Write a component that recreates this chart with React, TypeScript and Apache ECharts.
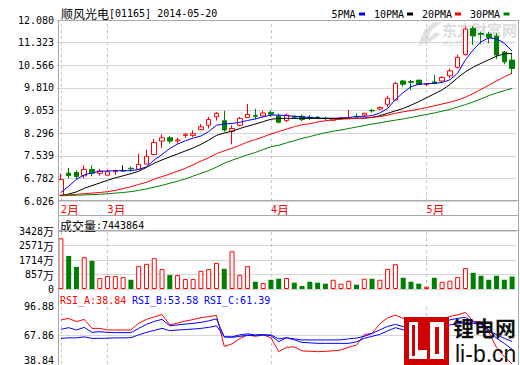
import React, { useEffect, useRef } from 'react';
import * as echarts from 'echarts';

const dates = [
  '2014-02-21', '2014-02-24', '2014-02-25', '2014-02-26', '2014-02-27', '2014-02-28',
  '2014-03-03', '2014-03-04', '2014-03-05', '2014-03-06', '2014-03-07', '2014-03-10', '2014-03-11',
  '2014-03-12', '2014-03-13', '2014-03-14', '2014-03-17', '2014-03-18', '2014-03-19', '2014-03-20',
  '2014-03-21', '2014-03-24', '2014-03-25', '2014-03-26', '2014-03-27', '2014-03-28', '2014-03-31',
  '2014-04-01', '2014-04-02', '2014-04-03', '2014-04-04', '2014-04-07', '2014-04-08', '2014-04-09',
  '2014-04-10', '2014-04-11', '2014-04-14', '2014-04-15', '2014-04-16', '2014-04-17', '2014-04-22',
  '2014-04-23', '2014-04-24', '2014-04-25', '2014-04-28', '2014-04-29', '2014-04-30',
  '2014-05-02', '2014-05-05', '2014-05-07', '2014-05-08', '2014-05-09', '2014-05-12', '2014-05-13',
  '2014-05-14', '2014-05-15', '2014-05-16', '2014-05-19', '2014-05-20',
];

const opens = [
  6.22, 6.96, 6.98, 6.87, 7.08, 6.95, 6.89, 7.01, 7.04, 7.12,
  7.09, 7.26, 7.58, 8.03, 8.14, 8.04, 8.22, 8.22, 8.41, 8.56,
  8.84, 8.71, 8.36, 8.56, 8.82, 8.89, 8.87, 8.99, 8.87, 8.72,
  8.85, 8.86, 8.83, 8.83, 8.80, 8.73, 8.79, 8.78, 8.86, 8.90,
  9.06, 9.10, 9.26, 9.40, 10.04, 10.02, 10.07, 9.92, 10.01, 10.04,
  10.21, 10.50, 10.93, 11.80, 11.63, 11.61, 11.54, 11.01, 10.74,
];
const closes = [
  6.74, 6.88, 6.84, 7.08, 6.95, 7.03, 7.01, 7.03, 7.04, 7.10,
  7.25, 7.52, 7.98, 8.14, 8.03, 8.07, 8.26, 8.28, 8.51, 8.75,
  8.96, 8.40, 8.45, 8.79, 8.92, 8.86, 8.97, 8.93, 8.66, 8.90,
  8.83, 8.75, 8.81, 8.81, 8.78, 8.78, 8.79, 8.81, 8.84, 8.96,
  9.04, 9.15, 9.46, 9.96, 9.93, 10.00, 9.93, 9.93, 9.96, 10.16,
  10.38, 10.83, 11.78, 11.55, 11.60, 11.50, 10.91, 10.68, 10.46,
];
const lows = [
  6.20, 6.78, 6.75, 6.78, 6.85, 6.87, 6.89, 6.90, 7.00, 7.02,
  7.07, 7.25, 7.56, 7.80, 7.95, 7.94, 8.14, 8.16, 8.40, 8.45,
  8.72, 8.34, 7.92, 8.52, 8.80, 8.76, 8.85, 8.85, 8.62, 8.66,
  8.78, 8.70, 8.74, 8.76, 8.72, 8.72, 8.76, 8.77, 8.79, 8.87,
  8.98, 9.07, 9.16, 9.38, 9.85, 9.72, 9.91, 9.88, 9.93, 10.00,
  10.13, 10.45, 10.89, 11.25, 11.28, 11.30, 10.78, 10.60, 10.30,
];
const highs = [
  6.94, 7.13, 7.05, 7.22, 7.22, 7.10, 7.07, 7.08, 7.22, 7.18,
  7.61, 7.75, 8.10, 8.25, 8.20, 8.14, 8.28, 8.39, 8.60, 8.84,
  9.00, 9.04, 8.56, 8.84, 9.27, 9.11, 9.05, 9.05, 8.95, 8.95,
  8.90, 8.92, 8.90, 8.87, 8.84, 8.80, 8.83, 9.07, 8.96, 8.98,
  9.10, 9.19, 9.55, 10.01, 10.08, 10.08, 10.07, 9.97, 10.24, 10.20,
  10.46, 10.93, 11.86, 11.88, 11.69, 11.69, 11.64, 11.04, 10.99,
];

const ma5 = [
  6.31, 6.52, 6.75, 6.90, 6.97, 7.02, 7.03, 7.04, 7.04, 7.04,
  7.08, 7.17, 7.40, 7.58, 7.78, 7.93, 8.04, 8.13, 8.20, 8.35,
  8.56, 8.60, 8.62, 8.66, 8.72, 8.77, 8.84, 8.90, 8.90, 8.88,
  8.86, 8.84, 8.82, 8.80, 8.79, 8.79, 8.80, 8.82, 8.85, 8.86,
  8.88, 8.97, 9.12, 9.42, 9.65, 9.85, 9.93, 9.95, 9.96, 9.99,
  10.08, 10.30, 10.75, 11.08, 11.35, 11.48, 11.45, 11.30, 11.04,
];
const ma10 = [
  6.20, 6.26, 6.33, 6.45, 6.54, 6.63, 6.72, 6.80, 6.87, 6.94,
  7.02, 7.15, 7.29, 7.40, 7.50, 7.60, 7.70, 7.80, 7.92, 8.06,
  8.22, 8.30, 8.36, 8.45, 8.53, 8.60, 8.68, 8.76, 8.79, 8.79,
  8.79, 8.79, 8.79, 8.79, 8.79, 8.79, 8.79, 8.79, 8.79, 8.80,
  8.82, 8.88, 8.96, 9.04, 9.12, 9.23, 9.35, 9.48, 9.61, 9.74,
  9.92, 10.15, 10.35, 10.50, 10.63, 10.75, 10.87, 10.95, 10.96,
];
const ma20 = [
  6.22, 6.23, 6.25, 6.27, 6.29, 6.31, 6.34, 6.38, 6.44, 6.50,
  6.58, 6.65, 6.76, 6.84, 6.93, 7.02, 7.12, 7.24, 7.36, 7.47,
  7.61, 7.70, 7.79, 7.89, 8.00, 8.08, 8.17, 8.27, 8.35, 8.43,
  8.51, 8.58, 8.61, 8.67, 8.71, 8.74, 8.76, 8.78, 8.79, 8.80,
  8.82, 8.85, 8.90, 8.96, 9.01, 9.05, 9.10, 9.15, 9.21, 9.27,
  9.33, 9.40, 9.50, 9.62, 9.76, 9.90, 10.04, 10.18, 10.30,
];
const ma30 = [
  6.20, 6.21, 6.22, 6.23, 6.24, 6.25, 6.27, 6.29, 6.31, 6.34,
  6.38, 6.43, 6.49, 6.55, 6.62, 6.69, 6.76, 6.86, 6.95, 7.04,
  7.16, 7.29, 7.39, 7.48, 7.57, 7.65, 7.75, 7.84, 7.89, 7.97,
  8.04, 8.12, 8.18, 8.25, 8.31, 8.36, 8.40, 8.45, 8.50, 8.55,
  8.60, 8.64, 8.69, 8.73, 8.77, 8.82, 8.87, 8.92, 8.97, 9.03,
  9.09, 9.17, 9.25, 9.34, 9.44, 9.55, 9.64, 9.72, 9.79,
];

// volume in units of 万 (10,000 shares)
const volumes = [
  2994, 1955, 1309, 1878, 1661, 646, 763, 763, 704, 546,
  1350, 1485, 1820, 1174, 822, 822, 587, 587, 1076, 1174,
  1545, 1193, 2230, 822, 1350, 430, 352, 546, 606, 646,
  372, 176, 430, 372, 313, 546, 313, 489, 254, 606,
  606, 546, 1193, 1467, 665, 430, 313, 137, 665, 430,
  489, 704, 1233, 958, 783, 546, 783, 546, 744,
];

const rsiA = [
  82.9, 84.5, 81.2, 83.5, 74.5, 74.5, 72.9, 72.9, 72.9, 72.9,
  79.5, 83.5, 86.0, 88.3, 78.0, 79.8, 81.8, 83.3, 85.2, 86.2,
  87.5, 56.5, 59.0, 64.3, 67.9, 66.5, 67.9, 65.2, 51.2, 55.5,
  56.0, 52.0, 51.6, 51.2, 51.5, 52.0, 52.9, 55.8, 57.7, 68.3,
  69.5, 79.0, 85.0, 87.7, 84.5, 81.0, 78.0, 79.0, 77.5, 82.0,
  86.5, 88.0, 90.5, 81.5, 81.2, 70.5, 55.3, 46.0, 38.84,
];
const rsiB = [
  73.5, 75.2, 72.9, 75.5, 70.5, 71.2, 70.5, 70.2, 70.2, 70.2,
  74.5, 78.5, 81.5, 83.5, 77.0, 78.0, 78.8, 79.5, 80.5, 82.0,
  84.0, 66.0, 66.0, 68.0, 69.0, 67.9, 68.3, 67.2, 61.2, 65.0,
  64.0, 62.9, 62.9, 62.9, 62.9, 62.9, 63.0, 64.0, 64.8, 66.5,
  69.5, 73.0, 76.5, 78.5, 76.2, 75.0, 74.0, 74.5, 74.0, 78.0,
  83.0, 84.5, 85.5, 81.0, 79.5, 72.8, 64.5, 59.4, 53.58,
];
const rsiC = [
  64.5, 65.0, 65.0, 66.0, 64.5, 64.5, 64.7, 65.0, 65.0, 65.2,
  68.0, 70.5, 72.5, 74.5, 72.2, 72.8, 73.3, 73.8, 74.5, 75.5,
  77.0, 66.0, 65.5, 66.5, 67.5, 67.5, 67.9, 67.9, 64.0, 65.2,
  63.0, 60.5, 60.0, 59.5, 59.5, 59.5, 59.5, 59.5, 61.0, 64.5,
  66.5, 68.5, 72.0, 75.2, 73.0, 72.5, 72.0, 72.3, 72.0, 74.5,
  78.0, 79.0, 80.5, 79.5, 78.5, 73.0, 68.0, 64.5, 61.39,
];

const priceTicks = ['6.026', '6.782', '7.539', '8.296', '9.053', '9.810', '10.566', '11.323', '12.080'];
const volumeTicks = ['0', '857万', '1714万', '2571万', '3428万'];
const rsiTicks = ['38.84', '67.86', '96.88'];

const stockName = '顺风光电';
const stockCode = '[01165] 2014-05-20';
const volumeLabel = '成交量';
const volumeValue = ':7443864';
const rsiTitles = ['RSI_A:38.84', 'RSI_B:53.58', 'RSI_C:61.39'];
const maNames = ['5PMA', '10PMA', '20PMA', '30PMA'];
const maColors = ['#0000ff', '#000000', '#ff0000', '#008000'];

const MONO = "'DejaVu Sans Mono', monospace";
const CJK = "'Noto Sans CJK SC', sans-serif";
const RED = '#ff0000';
const GREEN = '#008000';
const BLUE = '#0000ff';
const FRAME = '#a8a8a8';
const GRIDC = '#d6d6d6';

const priceMin = 6.026;
const priceMax = 12.08;
const priceStep = (priceMax - priceMin) / 8;
const volStep = 857;
const rsiMin = 38.84;
const rsiMax = 96.88;
const rsiStep = (rsiMax - rsiMin) / 2;

const monthStarts = dates
  .map((d, i) => (i === 0 || d.slice(5, 7) !== dates[i - 1].slice(5, 7) ? i : -1))
  .filter((i) => i >= 0);

function buildOption() {
  const gridLeft = 57;
  const gridWidth = 459;

  const monthMark = (extra: any[] = []) => ({
    silent: true,
    symbol: ['none', 'none'],
    z: 1,
    label: { show: false },
    emphasis: { disabled: true },
    lineStyle: { color: '#c4c4c4', type: [3, 3], width: 1 },
    data: [...monthStarts.map((i) => ({ xAxis: dates[i] })), ...extra],
  });

  const xBase = {
    type: 'category',
    data: dates,
    boundaryGap: true,
    axisLine: { show: false },
    axisTick: { show: false },
    splitLine: { show: false },
  };

  const lineSeries = (name: string, data: number[], color: string, xi: number, yi: number, extra: any = {}) => ({
    name,
    type: 'line',
    xAxisIndex: xi,
    yAxisIndex: yi,
    data,
    symbol: 'none',
    showSymbol: false,
    smooth: false,
    z: 3,
    lineStyle: { color, width: 1 },
    itemStyle: { color },
    ...extra,
  });

  const txt = (x: number, y: number, text: string, rich: any, z = 5) => ({
    type: 'text',
    x,
    y,
    z,
    silent: true,
    style: { text, rich, verticalAlign: 'middle', align: 'left', fill: '#000' },
  });

  const richBlack = {
    a: { fontFamily: MONO, fontSize: 10, fill: '#000' },
    c: { fontFamily: CJK, fontSize: 12, fill: '#000' },
  };

  const hLine = (y: number) => ({
    type: 'line',
    silent: true,
    z: 6,
    shape: { x1: 58, y1: y, x2: 519, y2: y },
    style: { stroke: FRAME, lineWidth: 1 },
  });
  const vLine = (x: number) => ({
    type: 'line',
    silent: true,
    z: 6,
    shape: { x1: x, y1: 20, x2: x, y2: 365 },
    style: { stroke: FRAME, lineWidth: 1 },
  });

  const legendX = [331.5, 374, 422, 470];
  const legendDashX = [359, 407, 455, 503.5];

  const graphic: any[] = [
    // frame
    vLine(58.5),
    vLine(518.5),
    hLine(20.5),
    hLine(200.5),
    hLine(215.5),
    hLine(230.5),
    // watermark (east money)
    {
      type: 'polygon', silent: true, z: 0,
      shape: { points: [[418, 46], [424, 30], [434, 22], [442, 22], [432, 30], [428, 38], [436, 32], [441, 34], [430, 42]] },
      style: { fill: '#e2e2e2' },
    },
    {
      type: 'text', x: 442, y: 29, z: 0, silent: true,
      style: { text: '东方财富网', fontFamily: CJK, fontSize: 15, fontWeight: 'bold', fill: '#dcdcdc', verticalAlign: 'middle' },
    },
    {
      type: 'text', x: 443, y: 43, z: 0, silent: true,
      style: { text: 'eastmoney.com', fontFamily: "'DejaVu Sans', sans-serif", fontSize: 9, fontStyle: 'italic', fill: '#e0e0e0', verticalAlign: 'middle' },
    },
    // title
    txt(61, 13, `{c|${stockName}}{a|${stockCode}}`, richBlack),
    // volume title
    txt(60, 225, `{c|${volumeLabel}}{a|${volumeValue}}`, richBlack),
    // RSI titles
    txt(60, 300, `{r|${rsiTitles[0]}}`, { r: { fontFamily: MONO, fontSize: 10, fill: RED } }),
    txt(132, 300, `{b|${rsiTitles[1]}}`, { b: { fontFamily: MONO, fontSize: 10, fill: BLUE } }),
    txt(204, 300, `{b|${rsiTitles[2]}}`, { b: { fontFamily: MONO, fontSize: 10, fill: BLUE } }),
    // logo (li-b.cn)
    { type: 'rect', silent: true, z: 100, shape: { x: 404, y: 317, width: 45, height: 48 }, style: { fill: '#d10000' } },
    {
      type: 'polygon', silent: true, z: 101,
      shape: { points: [[409, 322], [418, 322], [418, 350], [427, 350], [427, 359], [409, 359]] },
      style: { fill: '#ffffff' },
    },
    { type: 'rect', silent: true, z: 101, shape: { x: 430, y: 322, width: 14, height: 37 }, style: { fill: '#ffffff' } },
    { type: 'rect', silent: true, z: 102, shape: { x: 435, y: 327, width: 4, height: 27 }, style: { fill: '#d10000' } },
    { type: 'rect', silent: true, z: 102, shape: { x: 412, y: 325, width: 3, height: 31 }, style: { fill: '#d10000' } },
    {
      type: 'text', x: 453, y: 327, z: 100, silent: true,
      style: { text: '锂电网', fontFamily: CJK, fontSize: 21, lineHeight: 22, fontWeight: 'bold', fill: '#111', verticalAlign: 'middle' },
    },
    {
      type: 'text', x: 455, y: 353.5, z: 100, silent: true,
      style: { text: 'li-b.cn', fontFamily: "'Liberation Sans', sans-serif", fontSize: 23, lineHeight: 22, fill: '#111', verticalAlign: 'middle' },
    },
  ];

  maNames.forEach((n, k) => {
    graphic.push(txt(legendX[k], 14, `{a|${n}}`, { a: { fontFamily: MONO, fontSize: 10, fill: '#000' } }));
    graphic.push({
      type: 'rect', silent: true, z: 5,
      shape: { x: legendDashX[k], y: 12.5, width: 6, height: 3 },
      style: { fill: maColors[k] },
    });
  });

  const candleData = dates.map((_, i) => [opens[i], closes[i], lows[i], highs[i]]);
  const volData = volumes.map((v, i) => ({
    value: v,
    itemStyle:
      closes[i] >= opens[i]
        ? { color: '#ffffff', borderColor: RED, borderWidth: 1 }
        : { color: GREEN, borderWidth: 0 },
  }));

  return {
    animation: false,
    backgroundColor: '#ffffff',
    textStyle: { fontFamily: MONO },
    grid: [
      { left: gridLeft, top: 20, width: gridWidth, height: 181 },
      { left: gridLeft, top: 231, width: gridWidth, height: 58 },
      { left: gridLeft, top: 306, width: gridWidth, height: 58 },
    ],
    xAxis: [
      {
        ...xBase,
        gridIndex: 0,
        axisLabel: {
          show: true,
          interval: (index: number) => monthStarts.includes(index),
          formatter: (value: string) => `{a|${parseInt(value.slice(5, 7), 10)}}{c|月}`,
          align: 'left',
          margin: 2,
          rich: {
            a: { fontFamily: MONO, fontSize: 10, color: RED },
            c: { fontFamily: CJK, fontSize: 12, color: RED },
          },
        },
      },
      { ...xBase, gridIndex: 1, axisLabel: { show: false } },
      { ...xBase, gridIndex: 2, axisLabel: { show: false } },
    ],
    yAxis: [
      {
        type: 'value',
        gridIndex: 0,
        min: priceMin,
        max: priceMax,
        interval: priceStep,
        axisLine: { show: false },
        axisTick: { show: false },
        splitLine: { show: true, lineStyle: { color: GRIDC, width: 1 } },
        axisLabel: {
          margin: 3,
          color: '#000',
          fontFamily: MONO,
          fontSize: 10,
          formatter: (v: number) => priceTicks[Math.round((v - priceMin) / priceStep)] ?? '',
        },
      },
      {
        type: 'value',
        gridIndex: 1,
        min: 0,
        max: volStep * 4,
        interval: volStep,
        axisLine: { show: false },
        axisTick: { show: false },
        splitLine: { show: true, lineStyle: { color: GRIDC, width: 1 } },
        axisLabel: {
          margin: 3,
          formatter: (v: number) => {
            const t = volumeTicks[Math.round(v / volStep)] ?? '';
            return t.endsWith('万') ? `{a|${t.slice(0, -1)}}{c|万}` : `{z|${t}}`;
          },
          rich: {
            a: { fontFamily: MONO, fontSize: 10, color: '#000', lineHeight: 11 },
            c: { fontFamily: CJK, fontSize: 11, color: '#000', lineHeight: 11 },
            z: { fontFamily: MONO, fontSize: 10, color: '#000', lineHeight: 11 },
          },
        },
      },
      {
        type: 'value',
        gridIndex: 2,
        min: rsiMin,
        max: rsiMax,
        interval: rsiStep,
        axisLine: { show: false },
        axisTick: { show: false },
        splitLine: { show: false },
        axisLabel: {
          margin: 3,
          formatter: (v: number) => {
            const idx = Math.round((v - rsiMin) / rsiStep);
            const t = rsiTicks[idx] ?? '';
            return idx === 0 ? `{lo|${t}}` : `{n|${t}}`;
          },
          rich: {
            n: { fontFamily: MONO, fontSize: 10, color: '#000' },
            lo: { fontFamily: MONO, fontSize: 10, color: '#000', padding: [0, 0, 8, 0] },
          },
        },
      },
    ],
    series: [
      {
        name: 'K',
        type: 'candlestick',
        xAxisIndex: 0,
        yAxisIndex: 0,
        data: candleData,
        barWidth: 5,
        z: 2,
        itemStyle: {
          color: '#ffffff',
          color0: GREEN,
          borderColor: RED,
          borderColor0: GREEN,
          borderColorDoji: '#000000',
          borderWidth: 1,
        },
        markLine: monthMark(),
      },
      lineSeries(maNames[0], ma5, maColors[0], 0, 0),
      lineSeries(maNames[1], ma10, maColors[1], 0, 0),
      lineSeries(maNames[2], ma20, maColors[2], 0, 0),
      lineSeries(maNames[3], ma30, maColors[3], 0, 0),
      {
        name: 'VOL',
        type: 'bar',
        xAxisIndex: 1,
        yAxisIndex: 1,
        data: volData,
        barWidth: 5,
        z: 2,
        markLine: monthMark(),
      },
      lineSeries('RSI_A', rsiA, RED, 2, 2, {
        markLine: monthMark([{ yAxis: 67.86, lineStyle: { type: 'solid', color: GRIDC } }]),
      }),
      lineSeries('RSI_B', rsiB, BLUE, 2, 2),
      lineSeries('RSI_C', rsiC, BLUE, 2, 2),
    ],
    graphic,
  };
}

export default function App() {
  const ref = useRef<HTMLDivElement>(null);
  useEffect(() => {
    document.body.style.margin = '0';
    if (!ref.current) return;
    const chart = echarts.init(ref.current, null, { renderer: 'svg' });
    chart.setOption(buildOption() as any);
    return () => chart.dispose();
  }, []);
  return <div ref={ref} style={{ width: 520, height: 365 }} />;
}
